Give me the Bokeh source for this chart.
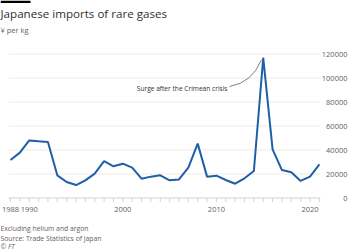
from bokeh.plotting import figure
from bokeh.models import ColumnDataSource
from bokeh.core.properties import value
from bokeh.embed import file_html
from bokeh.resources import INLINE

# ---- data -------------------------------------------------------------
years = list(range(1988, 2022))
yen_per_kg = [31700, 37800, 48000, 47200, 46600, 18900, 13300, 10800, 14700, 20300,
              30800, 26400, 28600, 25300, 16100, 17800, 18900, 14700, 15500, 25300,
              45300, 17800, 18600, 15000, 11900, 16400, 22500, 116900, 40500, 23300,
              21500, 14200, 17800, 28000]
x_ticks = [1988, 1990, 2000, 2010, 2020]
x_tick_labels = [str(v) for v in x_ticks]
y_ticks = [0, 20000, 40000, 60000, 80000, 100000, 120000]
y_tick_labels = [str(v) for v in y_ticks]

title = "Japanese imports of rare gases"
subtitle = "¥ per kg"
annotation = "Surge after the Crimean crisis"
notes = ["Excluding helium and argon", "Source: Trade Statistics of Japan"]
credit = "© FT"

# ---- layout (pixels) --------------------------------------------------
W, H = 350, 250
PX_X0, PX_PER_YEAR = 10.0, 9.36          # pixel of first year, pixels per year
PX_Y0, PX_PER_UNIT = 197.5, 144.0 / 120000  # pixel of zero, pixels per yen
PLOT_L, PLOT_R = 8, 320

x_start = years[0] - PX_X0 / PX_PER_YEAR
x_end = x_start + W / PX_PER_YEAR
y_end = PX_Y0 / PX_PER_UNIT
y_start = y_end - H / PX_PER_UNIT

def X(px):  # canvas pixel -> data x
    return x_start + px / PX_PER_YEAR

def Y(py):  # canvas pixel (from top) -> data y
    return y_end - py / PX_PER_UNIT

FONT = "Open Sans"
TXT = "#33302e"
GREY = "#66605c"
AXIS = "#d9d2c9"
GRID = "#efe9e3"

p = figure(width=W, height=H, x_range=(x_start, x_end), y_range=(y_start, y_end),
           output_backend="svg", toolbar_location=None,
           x_axis_location=None, y_axis_location=None,
           min_border_left=0, min_border_right=0, min_border_top=0, min_border_bottom=0,
           background_fill_color="white", border_fill_color="white")
p.outline_line_color = None
p.xgrid.visible = False
p.ygrid.visible = False

# grid lines (from the y ticks) and axis line
gsrc = ColumnDataSource(dict(y=y_ticks[1:], x0=[X(PLOT_L)] * (len(y_ticks) - 1),
                             x1=[X(PLOT_R)] * (len(y_ticks) - 1)))
p.segment(x0="x0", y0="y", x1="x1", y1="y", source=gsrc, line_color=GRID, line_width=1)
p.segment(x0=[X(PLOT_L)], y0=[y_ticks[0]], x1=[X(PLOT_R)], y1=[y_ticks[0]],
          line_color=AXIS, line_width=1)

# yearly ticks below the axis
tsrc = ColumnDataSource(dict(x=years, y0=[0] * len(years), y1=[Y(PX_Y0 + 4)] * len(years)))
p.segment(x0="x", y0="y0", x1="x", y1="y1", source=tsrc, line_color=AXIS, line_width=1)

# x tick labels
p.text(x=x_ticks, y=[Y(209)] * len(x_ticks), text=x_tick_labels,
       text_align="center", text_baseline="middle", text_font=value(FONT),
       text_font_size="7.5px", text_color=GREY)

# y tick labels, flush right
p.text(x=[X(347)] * len(y_ticks), y=y_ticks, text=y_tick_labels,
       text_align="right", text_baseline="middle", text_font=value(FONT),
       text_font_size="7.5px", text_color=GREY)

# the series
src = ColumnDataSource(dict(x=years, y=yen_per_kg))
p.line("x", "y", source=src, line_color="#1f5fa6", line_width=2)

# annotation and connector
peak_i = yen_per_kg.index(max(yen_per_kg))
px, py = years[peak_i], yen_per_kg[peak_i]
p.text(x=[X(227)], y=[Y(87.5)], text=[annotation], text_align="right",
       text_baseline="middle", text_font=value(FONT), text_font_size="6.6px",
       text_color=TXT)
p.quadratic(x0=[X(229)], y0=[Y(86)], x1=[px - 0.2], y1=[py * 0.985],
            cx=[X(252)], cy=[Y(82)], line_color="#66605c", line_width=0.8)

# title block
p.quad(left=[X(0)], right=[X(30)], top=[Y(0)], bottom=[Y(2.5)],
       fill_color="black", line_color=None)
p.text(x=[X(0)], y=[Y(12.5)], text=[title], text_align="left", text_baseline="middle",
       text_font=value(FONT), text_font_size="11.6px", text_color=TXT)
p.text(x=[X(0)], y=[Y(29)], text=[subtitle], text_align="left", text_baseline="middle",
       text_font=value(FONT), text_font_size="7.5px", text_color=GREY)

# notes
p.text(x=[X(0)] * len(notes), y=[Y(228), Y(237.5)], text=notes, text_align="left",
       text_baseline="middle", text_font=value(FONT), text_font_size="6.8px",
       text_color=GREY)
p.text(x=[X(0)], y=[Y(245.8)], text=[credit], text_align="left", text_baseline="middle",
       text_font=value(FONT), text_font_size="6.8px", text_font_style="italic",
       text_color=GREY)

open("out.html", "w").write(file_html(p, INLINE))
